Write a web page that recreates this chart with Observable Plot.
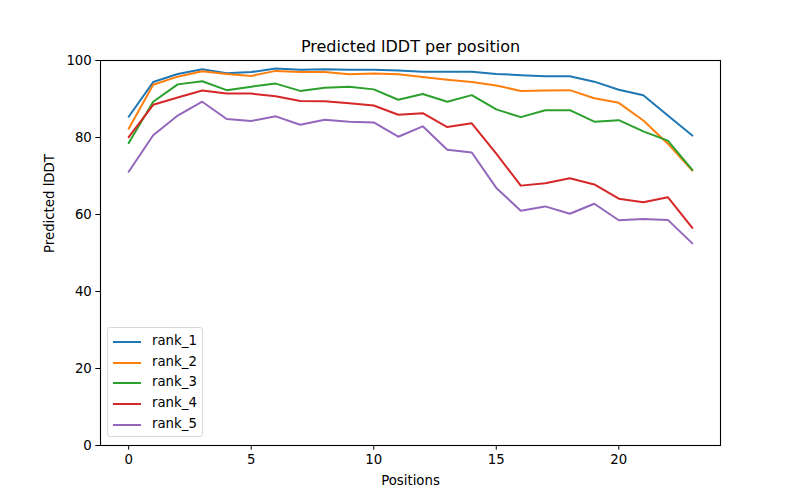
<!DOCTYPE html>
<html>
<head>
<meta charset="utf-8">
<script src="https://cdn.jsdelivr.net/npm/d3@7"></script>
<script src="https://cdn.jsdelivr.net/npm/@observablehq/plot@0.6"></script>
<style>
  html, body { margin: 0; padding: 0; background: #fff; }
  #wrap { position: relative; width: 800px; height: 500px; font-family: "DejaVu Sans", sans-serif; }
  #legend { position: absolute; left: 107px; top: 327px; width: 96px; height: 110px; box-sizing: border-box;
    border: 1px solid #d9d9d9; border-radius: 3px; background: rgba(255,255,255,0.8); font-size: 13.3px; color: #000; }
  .li { position: absolute; left: 0; height: 20px; width: 96px; }
  .li span.sw { position: absolute; left: 5px; top: 9px; width: 28px; height: 2px; }
  .li span.tx { position: absolute; left: 44px; top: 1px; line-height: 16px; }
</style>
</head>
<body>
<div id="wrap"></div>
<script>
const positions = d3.range(0, 24);
const seriesNames = ["rank_1", "rank_2", "rank_3", "rank_4", "rank_5"];
const colors = ["#1f77b4", "#ff7f0e", "#2ca02c", "#d62728", "#9467bd"];
const rank_1 = [85.4, 94.4, 96.5, 97.7, 96.7, 97.0, 97.9, 97.6, 97.7, 97.6, 97.6, 97.4, 97.1, 97.1, 97.1, 96.5, 96.2, 95.9, 95.9, 94.5, 92.4, 91.0, 85.7, 80.5];
const rank_2 = [82.3, 93.7, 95.8, 97.2, 96.5, 96.0, 97.3, 97.0, 97.0, 96.4, 96.6, 96.4, 95.7, 95.0, 94.4, 93.5, 92.1, 92.2, 92.3, 90.2, 89.0, 84.4, 78.4, 71.4];
const rank_3 = [78.6, 89.3, 93.8, 94.6, 92.3, 93.2, 94.0, 92.1, 92.9, 93.2, 92.5, 89.8, 91.3, 89.3, 91.0, 87.3, 85.3, 87.1, 87.1, 84.1, 84.5, 81.6, 79.2, 71.6];
const rank_4 = [80.1, 88.5, 90.4, 92.2, 91.4, 91.4, 90.7, 89.5, 89.4, 88.9, 88.3, 85.9, 86.3, 82.7, 83.7, 75.8, 67.5, 68.1, 69.4, 67.8, 64.1, 63.2, 64.5, 56.5];
const rank_5 = [71.1, 80.6, 85.7, 89.3, 84.8, 84.3, 85.5, 83.3, 84.6, 84.1, 83.9, 80.2, 82.9, 76.8, 76.1, 66.9, 61.0, 62.1, 60.2, 62.8, 58.5, 58.8, 58.6, 52.5];
const xTicks = [0, 5, 10, 15, 20];
const yTicks = [0, 20, 40, 60, 80, 100];
const title = "Predicted lDDT per position";
const xLabel = "Positions";
const yLabel = "Predicted lDDT";

const allSeries = [rank_1, rank_2, rank_3, rank_4, rank_5];
const data = [];
allSeries.forEach((vals, i) => vals.forEach((v, j) => data.push({pos: positions[j], value: v, rank: seriesNames[i]})));

const chart = Plot.plot({
  width: 800,
  height: 500,
  marginLeft: 100,
  marginRight: 80,
  marginTop: 60,
  marginBottom: 55,
  style: {fontFamily: "DejaVu Sans, sans-serif", fontSize: "13.3px", color: "#000", background: "#fff"},
  x: {domain: [-1.15, 24.15]},
  y: {domain: [0, 100]},
  color: {domain: seriesNames, range: colors},
  marks: [
    Plot.line(data, {x: "pos", y: "value", z: "rank", stroke: "rank", strokeWidth: 2}),
    Plot.frame({stroke: "#000", strokeWidth: 1.1}),
    Plot.axisX({ticks: xTicks, tickSize: 4.7, tickPadding: 4, label: null, fontSize: 13.3}),
    Plot.axisY({ticks: yTicks, tickSize: 4.7, tickPadding: 4, label: null, fontSize: 13.3}),
    Plot.text([xLabel], {frameAnchor: "bottom", dy: 35, fontSize: 13.3, lineAnchor: "middle"}),
    Plot.text([yLabel], {frameAnchor: "left", dx: -51, rotate: -90, fontSize: 13.3, lineAnchor: "middle"}),
    Plot.text([title], {frameAnchor: "top", dy: -14, fontSize: 16, lineAnchor: "middle"})
  ]
});
const wrap = document.getElementById("wrap");
wrap.appendChild(chart);

const legend = document.createElement("div");
legend.id = "legend";
seriesNames.forEach((name, i) => {
  const row = document.createElement("div");
  row.className = "li";
  row.style.top = (4 + i * 20.7) + "px";
  row.innerHTML = `<span class="sw" style="background:${colors[i]}"></span><span class="tx">${name}</span>`;
  legend.appendChild(row);
});
wrap.appendChild(legend);
</script>
</body>
</html>
